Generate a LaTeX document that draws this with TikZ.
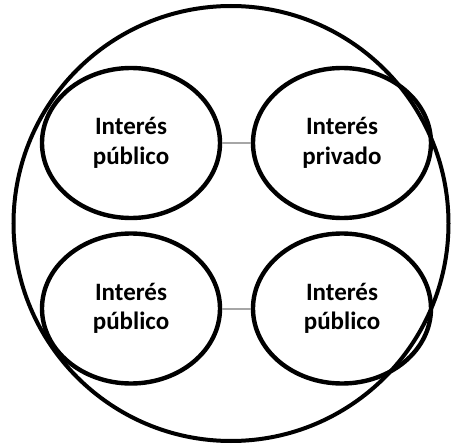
\documentclass[tikz,border=0pt]{standalone}
\usepackage{fontspec}
\setmainfont{Carlito}
\usetikzlibrary{shapes.geometric}
\begin{document}
\begin{tikzpicture}[x=1pt,y=-1pt,
  oval/.style={draw=black, line width=4.4pt, ellipse, minimum width=178pt, minimum height=150pt, inner sep=0pt, align=center, font=\bfseries\fontsize{25}{29.5}\selectfont},
  outer/.style={draw=black, line width=4pt, circle, minimum size=435pt, inner sep=0pt},
  link/.style={draw={rgb,255:red,166;green,166;blue,166}, line width=2pt}]
\useasboundingbox (0,0) rectangle (453,444);
\node[outer] (big) at (231,223.5) {};
\node[oval] (tl) at (131,143) {Interés\\público};
\node[oval] (tr) at (342,143) {Interés\\privado};
\node[oval] (bl) at (131,308.5) {Interés\\público};
\node[oval] (br) at (342,308.5) {Interés\\público};
\draw[link] (tl.east) -- (tr.west);
\draw[link] (bl.east) -- (br.west);
\end{tikzpicture}
\end{document}
